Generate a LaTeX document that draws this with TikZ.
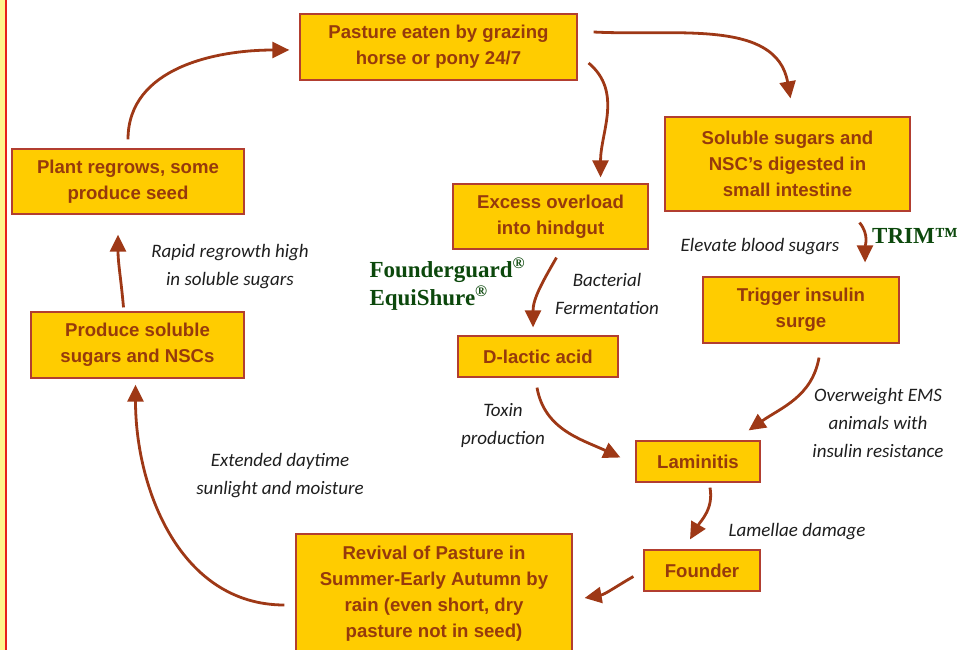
\documentclass[tikz,border=0pt]{standalone}
\usepackage{fontspec}
\setmainfont{Liberation Sans}
\newfontfamily\notefont{Carlito}
\newfontfamily\brandfont{Liberation Serif}
\usepackage{xcolor}
\usepackage{tikz}
\usetikzlibrary{arrows.meta,calc}

\definecolor{gold}{RGB}{255,204,0}
\definecolor{edge}{RGB}{178,62,48}
\definecolor{rust}{RGB}{150,58,12}
\definecolor{flowc}{RGB}{158,56,22}
\definecolor{ink}{RGB}{30,30,30}
\definecolor{leaf}{RGB}{12,72,12}
\definecolor{strip}{RGB}{255,244,140}
\definecolor{stripline}{RGB}{232,32,28}

\begin{document}
\begin{tikzpicture}[x=1pt,y=-1pt,
    stage/.style={draw=edge,line width=1.2pt,fill=gold,text=rust,align=center,inner sep=0pt,
      font=\bfseries\fontsize{18.6}{26}\selectfont},
    cue/.style={text=ink,align=center,font=\notefont\itshape\fontsize{19}{28}\selectfont},
    brand/.style={text=leaf,align=left,font=\brandfont\bfseries\fontsize{23}{28}\selectfont},
    flow/.style={draw=flowc,line width=2.8pt,-{Triangle[length=17pt,width=16pt]}}]
  \useasboundingbox (0,0) rectangle (975,650);
  \clip (0,0) rectangle (975,650);
  % left margin strip
  \fill[strip] (0,0) rectangle (4.5,650);
  \draw[stripline,line width=2pt] (5.5,0) -- (5.5,650);

  % stages
  \node[stage,minimum width=277,minimum height=66] (pasture) at (438.5,47) {Pasture eaten by grazing\\horse or pony 24/7};
  \node[stage,minimum width=245,minimum height=94] (soluble) at (787.5,164) {Soluble sugars and\\NSC’s digested in\\small intestine};
  \node[stage,minimum width=232,minimum height=65] (plant) at (128,181.5) {Plant regrows, some\\produce seed};
  \node[stage,minimum width=195,minimum height=65] (excess) at (550.5,216.5) {Excess overload\\into hindgut};
  \node[stage,minimum width=196,minimum height=66] (trigger) at (801,310) {Trigger insulin\\surge};
  \node[stage,minimum width=213,minimum height=66] (produce) at (137.5,345) {Produce soluble\\sugars and NSCs};
  \node[stage,minimum width=160,minimum height=41] (dlactic) at (538,356.5) {D-lactic acid};
  \node[stage,minimum width=124,minimum height=41] (laminitis) at (698,461.5) {Laminitis};
  \node[stage,minimum width=116,minimum height=41] (founder) at (702,570.5) {Founder};
  \node[stage,minimum width=276,minimum height=120] (revival) at (434,594) {Revival of Pasture in\\Summer-Early Autumn by\\rain (even short, dry\\pasture not in seed)};

  % cues
  \node[cue] (rapid) at (230,267) {Rapid regrowth high\\in soluble sugars};
  \node[cue] (elevate) at (760,247) {Elevate blood sugars};
  \node[cue] (bacterial) at (607,294) {Bacterial\\Fermentation};
  \node[cue] (toxin) at (503,425) {Toxin\\production};
  \node[cue] (overweight) at (878,423) {Overweight EMS\\animals with\\insulin resistance};
  \node[cue] (lamellae) at (797,532) {Lamellae damage};
  \node[cue] (extended) at (280,476) {Extended daytime\\sunlight and moisture};

  % products
  \node[brand,anchor=west] (guard) at (366,284) {Founderguard\textsuperscript{®}\\EquiShure\textsuperscript{®}};
  \node[brand] (trim) at (915,236) {TRIM™};

  % cycle
  \draw[flow] ($(plant.north)+(0,-9)$) to[out=90,in=180] ($(pasture.west)+(-10,3)$);
  \draw[flow] ($(pasture.east)+(16,-15)$) to[out=-3,in=100] ($(soluble.north)+(3,-18)$);
  \draw[flow] ($(pasture.east)+(11,16)$) to[out=-40,in=90] ($(excess.north)+(50,-6)$);
  \draw[flow] ($(soluble.south)+(72,11)$) to[out=-50,in=90] ($(trigger.north)+(64,-14)$);
  \draw[flow] ($(excess.south)+(6,8)$) to[out=-120,in=90] ($(dlactic.north)+(-5,-8)$);
  \draw[flow] ($(dlactic.south)+(-1,10)$) to[out=-80,in=155] ($(laminitis.west)+(-15,-4)$);
  \draw[flow] ($(trigger.south)+(18,14)$) to[out=-100,in=35] ($(laminitis.north east)+(-12,-10)$);
  \draw[flow] ($(laminitis.south)+(12,5)$) to[out=-80,in=60] ($(founder.north)+(-12,-10)$);
  \draw[flow] ($(founder.west)+(-10,6)$) to[out=-150,in=10] ($(revival.east)+(12,4)$);
  \draw[flow] ($(revival.west)+(-11,11)$) to[out=180,in=-90] ($(produce.south)+(-2,6)$);
  \draw[flow] ($(produce.north)+(-14,-4)$) to[out=95,in=-90] ($(plant.south)+(-10,20)$);
\end{tikzpicture}
\end{document}
